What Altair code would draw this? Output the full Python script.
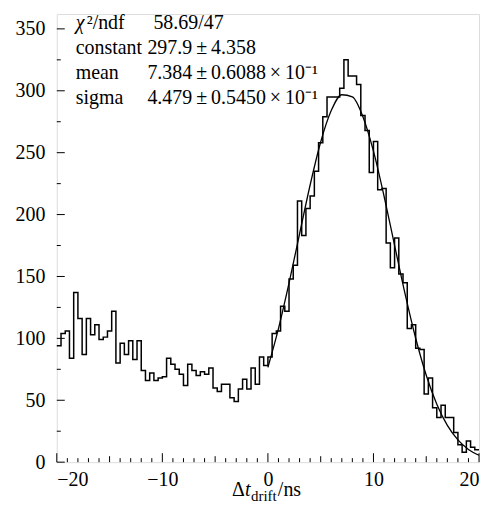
import altair as alt
import pandas as pd

# ---- data ----
BIN_START = -20.0
BIN_WIDTH = 0.4
counts = [
    94, 104, 106, 84, 137, 116, 87, 116, 103, 111,
    99, 101, 106, 122, 80, 96, 87, 98, 83, 98,
    74, 66, 72, 66, 68, 69, 84, 79, 75, 71,
    62, 79, 74, 70, 73, 71, 76, 60, 57, 63,
    63, 52, 49, 59, 67, 59, 76, 63, 85, 78,
    85, 104, 106, 126, 122, 148, 159, 211, 183, 205,
    215, 235, 258, 279, 295, 295, 295, 302, 325, 312,
    312, 305, 280, 268, 234, 259, 220, 221, 177, 157,
    181, 152, 145, 108, 111, 92, 91, 55, 68, 44,
    36, 46, 36, 36, 24, 14, 8, 17, 12, 10,
]
fit_x = list(range(0, 21))
fit_y = [76.6, 107.9, 144.6, 184.5, 223.9, 258.6, 284.0, 296.8, 295.1, 279.1,
         251.2, 215.0, 175.2, 135.7, 100.1, 70.2, 46.8, 29.7, 18.0, 10.3, 5.6]

x_labels = [-20, -10, 0, 10, 20]
x_mid = [-15, -5, 5, 15]
x_minor = [v for v in range(-19, 20) if v % 5 != 0]
y_labels = [0, 50, 100, 150, 200, 250, 300, 350]
y_minor = [25, 75, 125, 175, 225, 275, 325]

stat_names = ["²/ndf", "constant", "mean", "sigma"]
stat_values = ["58.69/47", "297.9\u2009±\u20094.358",
               "7.384\u2009±\u20090.6088\u2009×\u200910⁻¹",
               "4.479\u2009±\u20090.5450\u2009×\u200910⁻¹"]

W, H = 424, 450
FONT = "Liberation Serif"
FS = 20

edges = [round(BIN_START + BIN_WIDTH * i, 2) for i in range(len(counts) + 1)]
hist = pd.DataFrame({"x": edges, "n": counts + [counts[-1]]})
fit = pd.DataFrame({"x": fit_x, "y": fit_y})

xs = alt.Scale(domain=[-20, 20], nice=False, zero=False)
ys = alt.Scale(domain=[0, 362], nice=False, zero=True)

xaxis = alt.Axis(values=x_labels, ticks=False, domain=False, grid=False,
                 labelFont=FONT, labelFontSize=FS, labelColor="black",
                 labelPadding=7, title=None)
yaxis = alt.Axis(values=y_labels, ticks=False, domain=False, grid=False,
                 labelFont=FONT, labelFontSize=FS, labelColor="black",
                 labelPadding=12, title=None)

hist_line = alt.Chart(hist).mark_line(interpolate="step-after", color="black",
                                      strokeWidth=1.5).encode(
    x=alt.X("x:Q", scale=xs, axis=xaxis),
    y=alt.Y("n:Q", scale=ys, axis=yaxis),
)
fit_line = alt.Chart(fit).mark_line(interpolate="monotone", color="black",
                                    strokeWidth=1.3).encode(
    x=alt.X("x:Q", scale=xs),
    y=alt.Y("y:Q", scale=ys),
)


def xticks(vals, ln):
    return alt.Chart(pd.DataFrame({"v": vals})).mark_rule(color="black", strokeWidth=1).encode(
        x=alt.X("v:Q", scale=xs), y=alt.value(H), y2=alt.value(H - ln))


def yticks(vals, ln):
    return alt.Chart(pd.DataFrame({"v": vals})).mark_rule(color="black", strokeWidth=1).encode(
        y=alt.Y("v:Q", scale=ys), x=alt.value(0), x2=alt.value(ln))


def label(txt, px, py, fs=FS, st="normal"):
    return alt.Chart(pd.DataFrame({"t": [txt]})).mark_text(
        align="left", baseline="alphabetic", font=FONT, fontSize=fs, fontStyle=st,
        color="black").encode(x=alt.value(px), y=alt.value(py), text="t:N")


layers = [hist_line, fit_line,
          xticks(x_labels, 9), xticks(x_mid, 6), xticks(x_minor, 4),
          yticks(y_labels, 8), yticks(y_minor, 4)]

# stats box text
rows_y = [15, 40, 65, 90]
name_x = [30, 19, 19, 19]
val_x = [97, 91, 91, 91]
layers.append(label("χ", 19, rows_y[0], st="italic"))
for i, (nm, vv) in enumerate(zip(stat_names, stat_values)):
    layers.append(label(nm, name_x[i], rows_y[i]))
    layers.append(label(vv, val_x[i], rows_y[i]))

# axis title  Δt_drift/ns
layers += [label("Δ", 176, 484), label("t", 189, 484, st="italic"),
           label("drift", 195, 489, fs=15), label("/ns", 222, 484)]

chart = alt.layer(*layers).properties(
    width=W, height=H,
    autosize=alt.AutoSizeParams(type="none"),
    padding={"left": 49, "top": 5, "right": 6, "bottom": 50},
).configure_view(stroke="black", strokeWidth=1.5).configure(background="white")

chart.save("out.html", embed_options={"renderer": "svg", "actions": False})
